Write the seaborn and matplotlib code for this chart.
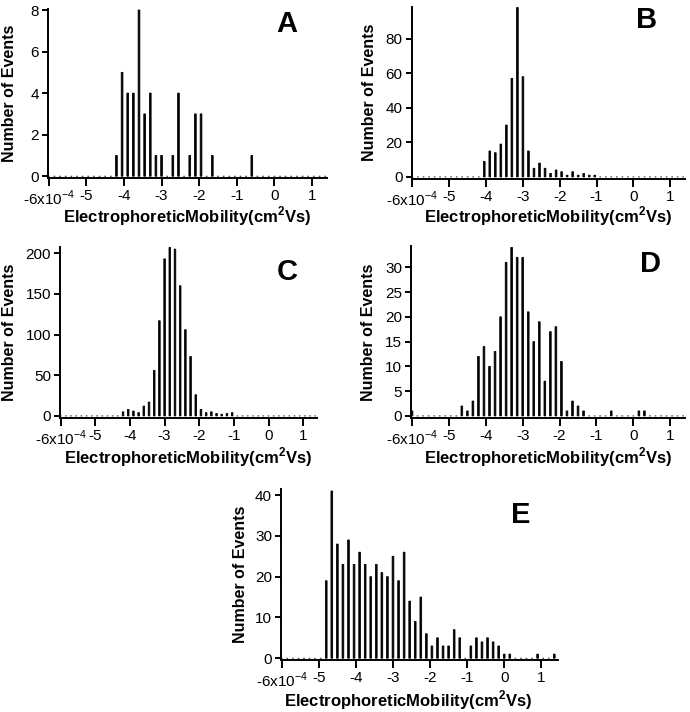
import numpy as np
import pandas as pd
import matplotlib
matplotlib.use("Agg")
import matplotlib.pyplot as plt
import seaborn as sns

# ---------------- data ----------------
bin_centers = [-6.00, -5.85, -5.70, -5.55, -5.40, -5.25, -5.10, -4.95, -4.80, -4.65,
               -4.50, -4.35, -4.20, -4.05, -3.90, -3.75, -3.60, -3.45, -3.30, -3.15,
               -3.00, -2.85, -2.70, -2.55, -2.40, -2.25, -2.10, -1.95, -1.80, -1.65,
               -1.50, -1.35, -1.20, -1.05, -0.90, -0.75, -0.60, -0.45, -0.30, -0.15,
               0.00, 0.15, 0.30, 0.45, 0.60, 0.75, 0.90, 1.05, 1.20, 1.35]

counts_A = [0, 0, 0, 0, 0, 0, 0, 0, 0, 0,
            0, 0, 1, 5, 4, 4, 8, 3, 4, 1,
            1, 0, 1, 4, 0, 1, 3, 3, 0, 1,
            0, 0, 0, 0, 0, 0, 1, 0, 0, 0,
            0, 0, 0, 0, 0, 0, 0, 0, 0, 0]

counts_B = [0, 0, 0, 0, 0, 0, 0, 0, 0, 0,
            0, 0, 0, 9, 15, 14, 19, 30, 57, 98,
            58, 15, 5, 8, 5, 2, 4, 3, 1, 3,
            1, 2, 1, 1, 0, 0, 0, 0, 0, 0,
            0, 0, 0, 0, 0, 0, 0, 0, 0, 0]

counts_C = [0, 0, 0, 0, 0, 0, 0, 0, 0, 0,
            0, 0, 5, 8, 6, 4, 12, 17, 56, 117,
            193, 207, 205, 160, 106, 73, 26, 8, 4, 5,
            3, 2, 3, 4, 0, 0, 0, 0, 0, 0,
            0, 0, 0, 0, 0, 0, 0, 0, 0, 0]

counts_D = [1, 0, 0, 0, 0, 0, 0, 0, 0, 2,
            1, 3, 12, 14, 10, 13, 20, 31, 34, 32,
            32, 21, 15, 19, 7, 17, 18, 11, 1, 3,
            2, 1, 0, 0, 0, 0, 1, 0, 0, 0,
            0, 1, 1, 0, 0, 0, 0, 0, 0, 0]

counts_E = [0, 0, 0, 0, 0, 0, 0, 0, 19, 41,
            28, 23, 29, 23, 26, 23, 20, 23, 21, 20,
            25, 19, 26, 14, 9, 15, 6, 3, 5, 3,
            3, 7, 5, 0, 3, 5, 4, 5, 4, 3,
            1, 1, 0, 0, 0, 0, 1, 0, 0, 1]

panel_letters = ["A", "B", "C", "D", "E"]
yticks_A = [0, 2, 4, 6, 8]
yticks_B = [0, 20, 40, 60, 80]
yticks_C = [0, 50, 100, 150, 200]
yticks_D = [0, 5, 10, 15, 20, 25, 30]
yticks_E = [0, 10, 20, 30, 40]
xtick_values = [-6, -5, -4, -3, -2, -1, 0, 1]
xtick_labels = ["-6x10$^{-4}$", "-5", "-4", "-3", "-2", "-1", "0", "1"]
y_label = "Number of Events"
x_label = "ElectrophoreticMobility(cm$^{\\mathbf{2}}$Vs)"

# ---------------- style ----------------
sns.set_theme(style="ticks")
plt.rcParams["font.family"] = ["Liberation Sans", "DejaVu Sans"]
plt.rcParams["mathtext.fontset"] = "custom"
plt.rcParams["mathtext.rm"] = "Liberation Sans"
plt.rcParams["mathtext.bf"] = "Liberation Sans:bold"
plt.rcParams["axes.unicode_minus"] = False

W, H = 690, 712
fig = plt.figure(figsize=(W / 100, H / 100), dpi=100)

layout = {
    "A": dict(box=(48, 9, 327, 178), ytop=8.05, xmax=1.40, ylab=31, xlab=26, xc=0.5, letter=(287, 24)),
    "B": dict(box=(411.7, 6.7, 685, 178.7), ytop=98.5, xmax=1.40, ylab=35, xlab=26, xc=0.5, letter=(647, 20)),
    "C": dict(box=(60, 246.7, 317, 417.7), ytop=208, xmax=1.40, ylab=43, xlab=28, xc=0.5, letter=(287, 272)),
    "D": dict(box=(411.3, 246, 685, 417.7), ytop=34.3, xmax=1.40, ylab=35, xlab=28, xc=0.5, letter=(651, 264)),
    "E": dict(box=(281, 489, 558, 660), ytop=41.5, xmax=1.45, ylab=33, xlab=28, xc=0.46, letter=(521, 515)),
}
series = {"A": counts_A, "B": counts_B, "C": counts_C, "D": counts_D, "E": counts_E}
yticks = {"A": yticks_A, "B": yticks_B, "C": yticks_C, "D": yticks_D, "E": yticks_E}

for key in panel_letters:
    L = layout[key]
    l, t, r, b = L["box"]
    ax = fig.add_axes([l / W, 1 - b / H, (r - l) / W, (b - t) / H])
    df = pd.DataFrame({"mobility": bin_centers, "events": series[key]})
    sns.barplot(data=df, x="mobility", y="events", native_scale=True,
                color="black", width=0.30, linewidth=0.6, edgecolor="black",
                saturation=1, errorbar=None, ax=ax, zorder=3)
    for p in ax.patches:
        p.set_clip_on(False)
        p.set_snap(False)
    hpx = b - t
    d = 1.8 * L["ytop"] / hpx
    ax.set_ylim(-d, L["ytop"])
    ax.set_xlim(-6.02, L["xmax"])
    ax.set_xticks(xtick_values)
    ax.set_xticklabels(xtick_labels)
    ax.set_yticks(yticks[key])
    ax.set_yticklabels([str(v) for v in yticks[key]])
    sns.despine(ax=ax)
    for s in ("left", "bottom"):
        ax.spines[s].set_linewidth(1.4)
        ax.spines[s].set_color("black")
    ax.tick_params(axis="x", direction="out", length=5.5, width=1.4,
                   color="black", labelsize=11, labelcolor="black", pad=2.5)
    ax.tick_params(axis="y", direction="out", length=4.5, width=1.4,
                   color="black", labelsize=11, labelcolor="black", pad=2)
    ax.set_ylabel(y_label, fontsize=11.5, fontweight="bold", color="black")
    ax.set_xlabel(x_label, fontsize=12, fontweight="bold", color="black")
    ax.yaxis.set_label_coords(-L["ylab"] / (r - l), 0.5)
    ax.xaxis.set_label_coords(L["xc"], -L["xlab"] / hpx)
    ax.set_facecolor("white")
    lx, ly = L["letter"]
    fig.text(lx / W, 1 - ly / H, key, fontsize=21, fontweight="bold",
             ha="center", va="center", color="black")

fig.patch.set_facecolor("white")
fig.savefig("out.png", dpi=100, facecolor="white")
